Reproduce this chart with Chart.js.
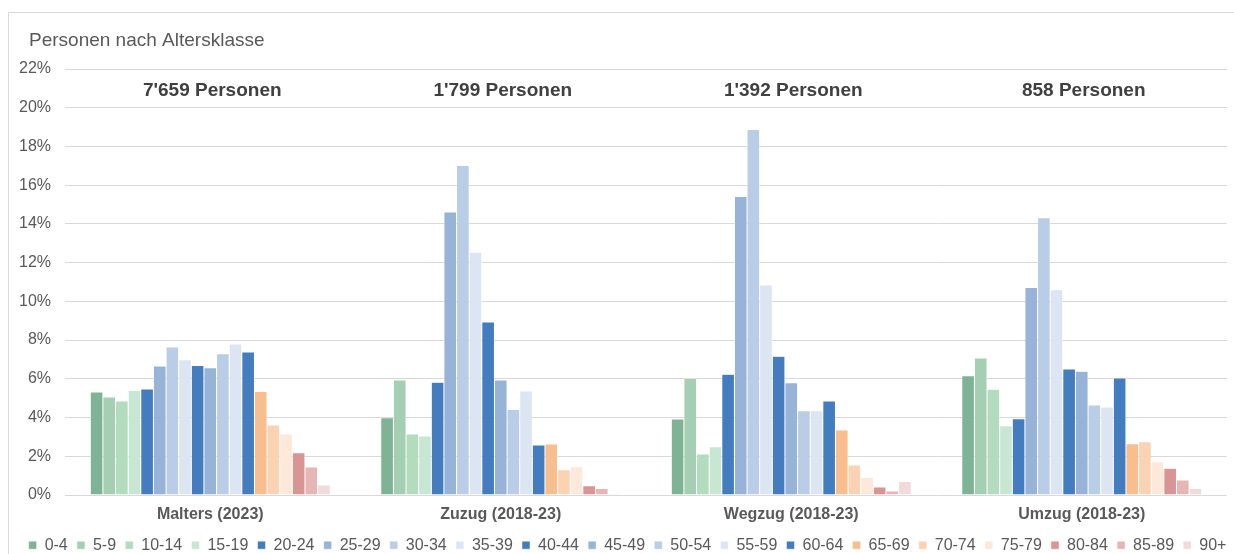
<!DOCTYPE html>
<html>
<head>
<meta charset="utf-8">
<script src="https://cdn.jsdelivr.net/npm/chart.js@4/dist/chart.umd.min.js"></script>
<style>
  html, body { margin: 0; padding: 0; background: #ffffff; }
  #wrap { position: relative; width: 1234px; height: 554px; }
  canvas { display: block; }
</style>
</head>
<body>
<div id="wrap"><canvas id="c" width="1234" height="554"></canvas></div>
<script>
// Categories (x axis) and the population count shown above each group
const categories = ['Malters (2023)', 'Zuzug (2018-23)', 'Wegzug (2018-23)', 'Umzug (2018-23)'];
const groupTotals = ["7'659 Personen", "1'799 Personen", "1'392 Personen", "858 Personen"];

// Age classes (one series each)
const ageClasses = ['0-4', '5-9', '10-14', '15-19', '20-24', '25-29', '30-34', '35-39', '40-44',
  '45-49', '50-54', '55-59', '60-64', '65-69', '70-74', '75-79', '80-84', '85-89', '90+'];

// Share of persons per age class, in percent
const malters = [5.32, 5.06, 4.85, 5.40, 5.47, 6.66, 7.64, 6.99, 6.69, 6.57, 7.30, 7.80, 7.39, 5.35, 3.61, 3.15, 2.18, 1.45, 0.52];
const zuzug   = [3.99, 5.94, 3.15, 3.05, 5.82, 14.62, 17.01, 12.53, 8.94, 5.94, 4.42, 5.37, 2.58, 2.63, 1.31, 1.46, 0.48, 0.33, 0.07];
const wegzug  = [3.92, 6.02, 2.12, 2.49, 6.23, 15.42, 18.87, 10.85, 7.16, 5.80, 4.35, 4.35, 4.86, 3.36, 1.55, 0.91, 0.41, 0.21, 0.70];
const umzug   = [6.16, 7.08, 5.46, 3.58, 3.94, 10.71, 14.32, 10.60, 6.51, 6.39, 4.65, 4.55, 6.04, 2.65, 2.75, 1.72, 1.38, 0.78, 0.33];

// Y axis range and step (percent)
const yMin = 0;
const yMax = 22;
const yStep = 2;

// Colour per age class
const ageColors = ['#7fb396', '#a5cfb3', '#b3dbbd', '#c8e7d3',
  '#437cbf', '#97b3d8', '#b9cde6', '#dce5f2',
  '#437cbf', '#97b3d8', '#b9cde6', '#dce5f2',
  '#437cbf', '#f8be8d', '#fbd3b2', '#fde8da',
  '#d99494', '#e6b5b5', '#f0dada'];

const seriesByCategory = [malters, zuzug, wegzug, umzug];

const datasets = ageClasses.map((label, i) => ({
  label: label,
  data: seriesByCategory.map(s => s[i]),
  backgroundColor: ageColors[i],
  borderColor: '#ffffff',
  borderWidth: 0.5,
  categoryPercentage: 0.826,
  barPercentage: 1.0
}));

const FONT = '"Liberation Sans", Arial, Helvetica, sans-serif';
const GREY = '#595959';

// Outer frame of the chart box
const framePlugin = {
  id: 'frame',
  beforeDraw(chart) {
    const ctx = chart.ctx;
    ctx.save();
    ctx.strokeStyle = '#d9d9d9';
    ctx.lineWidth = 1;
    ctx.beginPath();
    ctx.moveTo(8.5, chart.height);
    ctx.lineTo(8.5, 12.5);
    ctx.lineTo(chart.width, 12.5);
    ctx.stroke();
    ctx.restore();
  }
};

// Chart heading and the totals above each group
const textPlugin = {
  id: 'texts',
  afterDraw(chart) {
    const ctx = chart.ctx;
    const xs = chart.scales.x;
    ctx.save();
    ctx.fillStyle = GREY;
    ctx.font = '19px ' + FONT;
    ctx.textAlign = 'left';
    ctx.textBaseline = 'alphabetic';
    ctx.fillText('Personen nach Altersklasse', 29, 45.5);

    ctx.fillStyle = '#404040';
    ctx.font = 'bold 19px ' + FONT;
    ctx.textAlign = 'center';
    ctx.textBaseline = 'middle';
    groupTotals.forEach((t, i) => {
      ctx.fillText(t, xs.getPixelForValue(i) + 2, 91);
    });
    ctx.restore();
  }
};

// Fixed legend height so the legend row sits at the bottom edge,
// and the row nudged right within the frame
const legendHeightPlugin = {
  id: 'legendHeight',
  beforeInit(chart) {
    const origFit = chart.legend.fit;
    chart.legend.fit = function () {
      origFit.call(this);
      this.height = 26;
    };
  },
  afterLayout(chart) {
    chart.legend.left += 14;
    chart.legend.right += 14;
  }
};

new Chart(document.getElementById('c'), {
  type: 'bar',
  data: { labels: categories, datasets: datasets },
  options: {
    responsive: false,
    devicePixelRatio: 1,
    animation: false,
    layout: { padding: { left: 0, right: 7, top: 69, bottom: 0 } },
    plugins: {
      tooltip: { enabled: false },
      title: { display: false },
      legend: {
        position: 'bottom',
        labels: {
          boxWidth: 8,
          boxHeight: 8,
          padding: 9.2,
          color: GREY,
          font: { family: FONT, size: 16 }
        }
      }
    },
    scales: {
      x: {
        grid: { display: false, drawTicks: false },
        border: { display: false },
        ticks: {
          color: GREY,
          padding: 10,
          font: { family: FONT, size: 16, weight: 'bold' }
        },
        afterFit(scale) { scale.height = 33; }
      },
      y: {
        min: yMin,
        max: yMax,
        grid: { color: '#d9d9d9', lineWidth: 1, drawTicks: false },
        border: { display: false },
        ticks: {
          stepSize: yStep,
          padding: 14,
          color: GREY,
          font: { family: FONT, size: 16 },
          callback: v => v + '%'
        },
        afterFit(scale) { scale.width = 65; }
      }
    }
  },
  plugins: [framePlugin, textPlugin, legendHeightPlugin]
});
</script>
</body>
</html>
